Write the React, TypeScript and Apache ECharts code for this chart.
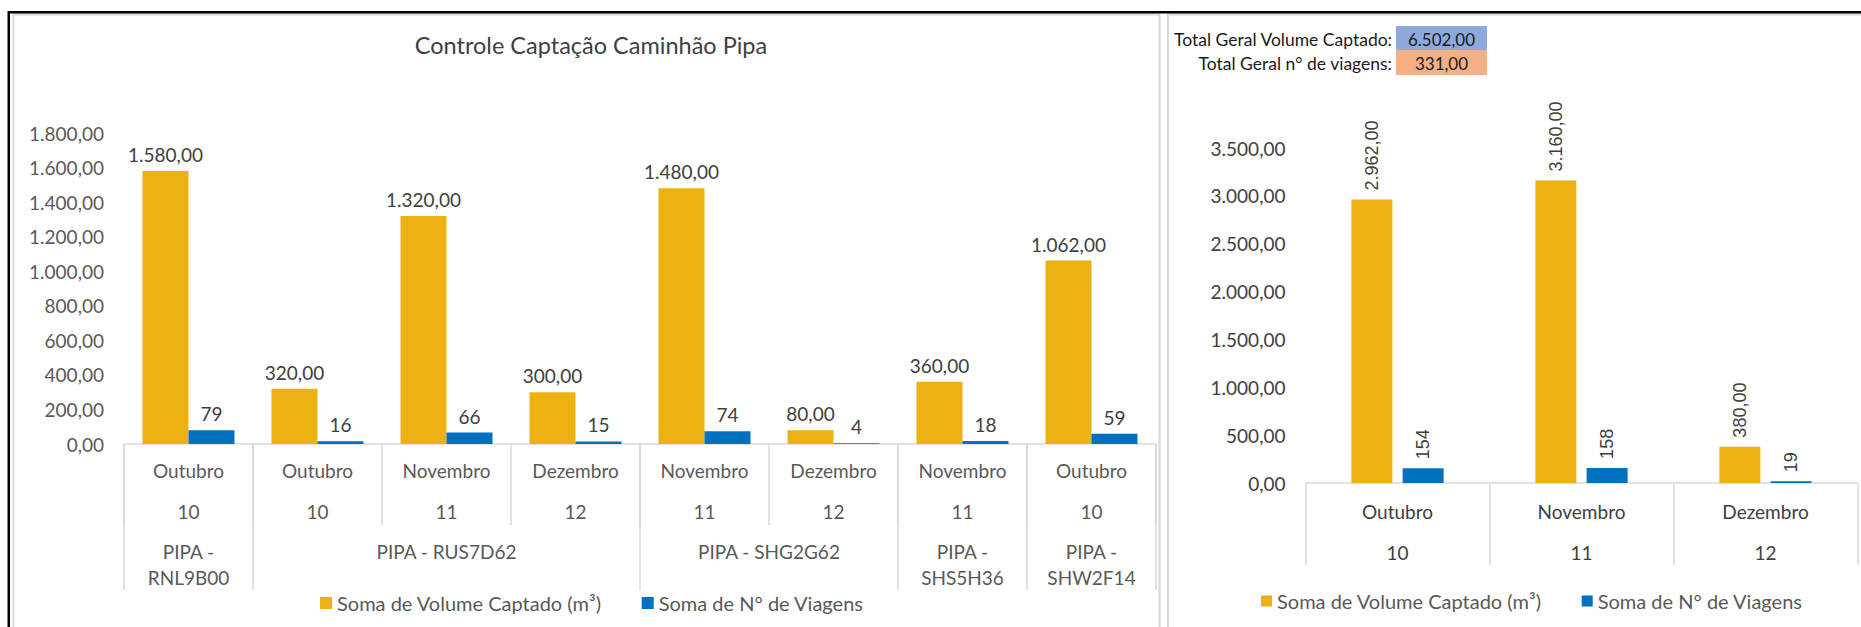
import React, { useEffect, useRef } from "react";
import * as echarts from "echarts";

// ---------- data ----------
const months = ["Outubro", "Outubro", "Novembro", "Dezembro", "Novembro", "Dezembro", "Novembro", "Outubro"];
const monthNumbers = ["10", "10", "11", "12", "11", "12", "11", "10"];
const trucks = ["PIPA - RNL9B00", "PIPA - RUS7D62", "PIPA - SHG2G62", "PIPA - SHS5H36", "PIPA - SHW2F14"];
const truckSpans = [1, 3, 2, 1, 1];
const volumeByTruck = [1580, 320, 1320, 300, 1480, 80, 360, 1062];
const tripsByTruck = [79, 16, 66, 15, 74, 4, 18, 59];

const summaryMonths = ["Outubro", "Novembro", "Dezembro"];
const summaryMonthNumbers = ["10", "11", "12"];
const volumeByMonth = [2962, 3160, 380];
const tripsByMonth = [154, 158, 19];

const totalVolume = 6502;
const totalTrips = 331;

const volumeName = "Soma de Volume Captado (m³)";
const tripsName = "Soma de N° de Viagens";
const chartTitle = "Controle Captação Caminhão Pipa";
const totalVolumeLabel = "Total Geral Volume Captado:";
const totalTripsLabel = "Total Geral n° de viagens:";

// ---------- helpers ----------
function fmt2(v: number): string {
  const [i, d] = v.toFixed(2).split(".");
  return i.replace(/\B(?=(\d{3})+(?!\d))/g, ".") + "," + d;
}

const boundaries: number[] = [0];
const centers: number[] = [];
truckSpans.forEach((s) => {
  const start = boundaries[boundaries.length - 1];
  centers.push(start + s / 2);
  boundaries.push(start + s);
});

const FONT = "Lato, 'Open Sans', sans-serif";
const GOLD = "#ECB113";
const BLUE = "#0070C0";
const AXIS = "#D9D9D9";
const TXT = "#595959";
const LBL = "#404040";

export default function App() {
  const ref = useRef<HTMLDivElement>(null);

  useEffect(() => {
    if (!ref.current) return;
    const chart = echarts.init(ref.current, undefined, { renderer: "svg" });

    const option: any = {
      animation: false,
      backgroundColor: "#ffffff",
      textStyle: { fontFamily: FONT },
      grid: [
        { left: 124, width: 1032, top: 133, height: 311 },
        { left: 1305.5, width: 552, top: 148, height: 335 },
      ],
      legend: [
        {
          data: [volumeName, tripsName],
          left: 320,
          top: 593,
          padding: 0,
          icon: "rect",
          itemWidth: 12,
          itemHeight: 12,
          itemGap: 40,
          textStyle: { fontFamily: FONT, fontSize: 20, color: TXT },
          selectedMode: false,
        },
        {
          data: [volumeName, tripsName],
          left: 1261,
          top: 591,
          padding: 0,
          icon: "rect",
          itemWidth: 11,
          itemHeight: 11,
          itemGap: 40,
          textStyle: { fontFamily: FONT, fontSize: 20, color: TXT },
          selectedMode: false,
        },
      ],
      xAxis: [
        {
          type: "category",
          gridIndex: 0,
          position: "bottom",
          data: months,
          axisLine: { lineStyle: { color: AXIS, width: 1.5 } },
          axisTick: { show: true, alignWithLabel: false, length: 81, lineStyle: { color: AXIS, width: 1.5 } },
          axisLabel: { interval: 0, margin: 16, fontSize: 19, lineHeight: 20, color: TXT },
        },
        {
          type: "category",
          gridIndex: 0,
          position: "bottom",
          data: monthNumbers,
          axisLine: { show: false },
          axisTick: { show: false },
          axisLabel: { interval: 0, margin: 57, fontSize: 19, lineHeight: 20, color: TXT },
        },
        {
          type: "value",
          gridIndex: 0,
          position: "bottom",
          min: 0,
          max: truckSpans.reduce((a, b) => a + b, 0),
          splitLine: { show: false },
          axisLine: { show: false },
          axisTick: { show: true, customValues: boundaries, length: 146, lineStyle: { color: AXIS, width: 1.5 } },
          axisLabel: {
            customValues: centers,
            margin: 94,
            fontSize: 19,
            lineHeight: 26,
            color: TXT,
            formatter: (v: number) => {
              const i = centers.findIndex((c) => Math.abs(c - v) < 1e-6);
              if (i < 0) return "";
              return truckSpans[i] === 1 ? trucks[i].replace(" - ", " -\n") : trucks[i];
            },
          },
        },
        {
          type: "category",
          gridIndex: 1,
          position: "bottom",
          data: summaryMonths,
          axisLine: { lineStyle: { color: AXIS, width: 1.5 } },
          axisTick: { show: true, alignWithLabel: false, length: 82, lineStyle: { color: AXIS, width: 1.5 } },
          axisLabel: { interval: 0, margin: 18, fontSize: 19, lineHeight: 20, color: LBL },
        },
        {
          type: "category",
          gridIndex: 1,
          position: "bottom",
          data: summaryMonthNumbers,
          axisLine: { show: false },
          axisTick: { show: false },
          axisLabel: { interval: 0, margin: 59, fontSize: 19, lineHeight: 20, color: LBL },
        },
      ],
      yAxis: [
        {
          type: "value",
          gridIndex: 0,
          min: 0,
          max: 1800,
          interval: 200,
          splitLine: { show: false },
          axisLine: { show: false },
          axisTick: { show: false },
          axisLabel: { margin: 20, fontSize: 19, color: TXT, formatter: (v: number) => fmt2(v) },
        },
        {
          type: "value",
          gridIndex: 1,
          min: 0,
          max: 3500,
          interval: 500,
          splitLine: { show: false },
          axisLine: { show: false },
          axisTick: { show: false },
          axisLabel: { margin: 20, fontSize: 19, color: LBL, formatter: (v: number) => fmt2(v) },
        },
      ],
      series: [
        {
          name: volumeName,
          type: "bar",
          xAxisIndex: 0,
          yAxisIndex: 0,
          data: volumeByTruck,
          barWidth: 46,
          barGap: "0%",
          itemStyle: { color: GOLD },
          label: {
            show: true,
            position: "top",
            distance: 7,
            fontSize: 19,
            color: LBL,
            formatter: (p: any) => fmt2(p.value),
          },
        },
        {
          name: tripsName,
          type: "bar",
          xAxisIndex: 0,
          yAxisIndex: 0,
          data: tripsByTruck,
          barWidth: 46,
          barGap: "0%",
          itemStyle: { color: BLUE },
          label: { show: true, position: "top", distance: 7, fontSize: 19, color: LBL },
        },
        {
          name: volumeName,
          type: "bar",
          xAxisIndex: 3,
          yAxisIndex: 1,
          data: volumeByMonth,
          barWidth: 41,
          barGap: "25%",
          itemStyle: { color: GOLD },
          label: {
            show: true,
            position: "top",
            rotate: 90,
            align: "left",
            verticalAlign: "middle",
            distance: 9,
            fontFamily: "'Liberation Sans', Arial, sans-serif",
            fontSize: 18,
            color: LBL,
            formatter: (p: any) => fmt2(p.value),
          },
        },
        {
          name: tripsName,
          type: "bar",
          xAxisIndex: 3,
          yAxisIndex: 1,
          data: tripsByMonth,
          barWidth: 41,
          barGap: "25%",
          itemStyle: { color: BLUE },
          label: {
            show: true,
            position: "top",
            rotate: 90,
            align: "left",
            verticalAlign: "middle",
            distance: 9,
            fontFamily: "'Liberation Sans', Arial, sans-serif",
            fontSize: 18,
            color: LBL,
          },
        },
      ],
      graphic: [
        { type: "rect", shape: { x: 8, y: 11, width: 1860, height: 2.5 }, style: { fill: "#000" }, z: 10 },
        { type: "rect", shape: { x: 7.5, y: 11, width: 2.5, height: 620 }, style: { fill: "#000" }, z: 10 },
        { type: "rect", shape: { x: 13.5, y: 14.5, width: 1146, height: 700 }, style: { fill: "none", stroke: AXIS, lineWidth: 2 }, z: 9 },
        { type: "rect", shape: { x: 1168, y: 14.5, width: 800, height: 700 }, style: { fill: "none", stroke: AXIS, lineWidth: 2 }, z: 9 },
        {
          type: "text",
          x: 591,
          y: 45,
          style: { text: chartTitle, font: `23.5px ${FONT}`, fill: LBL, textAlign: "center", textVerticalAlign: "middle" },
        },
        { type: "rect", shape: { x: 1396, y: 26, width: 91, height: 24 }, style: { fill: "#8EA9DB" } },
        { type: "rect", shape: { x: 1396, y: 50, width: 91, height: 25 }, style: { fill: "#F4B084" } },
        {
          type: "text",
          x: 1392,
          y: 39,
          style: { text: totalVolumeLabel, font: `17.5px ${FONT}`, fill: "#1a1a1a", textAlign: "right", textVerticalAlign: "middle" },
        },
        {
          type: "text",
          x: 1392,
          y: 63,
          style: { text: totalTripsLabel, font: `17.5px ${FONT}`, fill: "#1a1a1a", textAlign: "right", textVerticalAlign: "middle" },
        },
        {
          type: "text",
          x: 1441.5,
          y: 39,
          style: { text: fmt2(totalVolume), font: `17px ${FONT}`, fill: "#1a1a1a", textAlign: "center", textVerticalAlign: "middle" },
        },
        {
          type: "text",
          x: 1441.5,
          y: 63,
          style: { text: fmt2(totalTrips), font: `17px ${FONT}`, fill: "#1a1a1a", textAlign: "center", textVerticalAlign: "middle" },
        },
      ],
    };

    chart.setOption(option);
    return () => chart.dispose();
  }, []);

  return (
    <div
      ref={ref}
      style={{ position: "fixed", left: 0, top: 0, width: 1861, height: 627, background: "#fff" }}
    />
  );
}
